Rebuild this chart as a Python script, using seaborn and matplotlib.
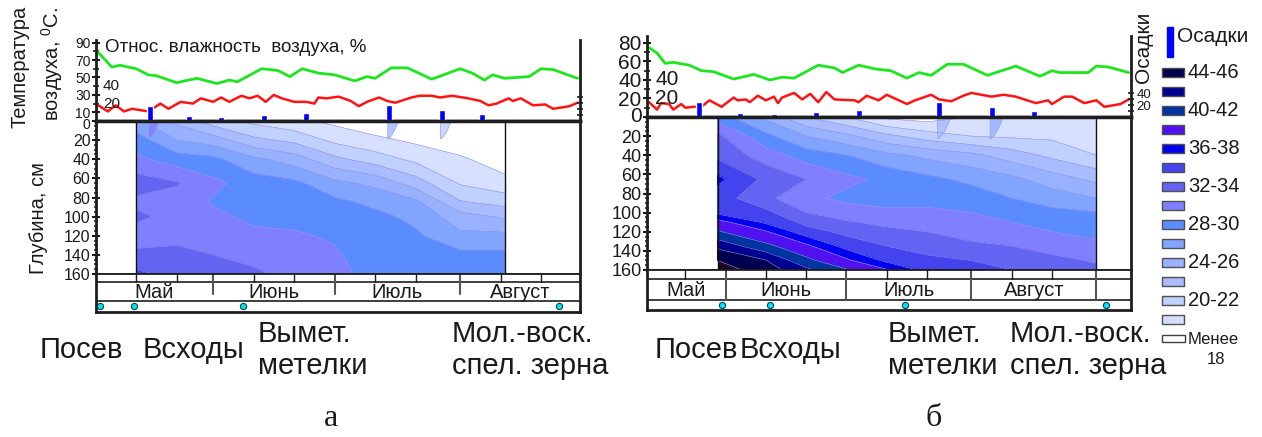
import matplotlib
matplotlib.use('Agg')

import matplotlib.pyplot as plt
from matplotlib.patches import Rectangle
import numpy as np
import seaborn as sns

sns.set_style("white")
plt.rcParams['font.family'] = ['Liberation Sans', 'DejaVu Sans']
plt.rcParams['mathtext.fontset'] = 'custom'
plt.rcParams['mathtext.rm'] = 'Liberation Sans'
plt.rcParams['text.color'] = '#1a1a1a'
plt.rcParams['ytick.color'] = '#1a1a1a'

W, H = 1262, 437

# days counted from 1 May (June 1 = 31, July 1 = 61, Aug 1 = 92, Sep 1 = 123)
months = ['Май', 'Июнь', 'Июль', 'Август']
month_starts = [0, 31, 61, 92, 123]
phases = ['Посев', 'Всходы', 'Вымет.\nметелки', 'Мол.-воск.\nспел. зерна']

# ---- panel a: weather
hum_a_day = [2, 6, 8, 12, 15, 17, 22, 27, 32, 35, 37, 43, 47, 50, 53, 57, 61, 66, 69, 71,
             75, 79, 85, 92, 95, 98, 100, 103, 109, 112, 115, 121]
hum_a = [82, 62, 64, 60, 53, 52, 44, 49, 43, 47, 45, 60, 58, 51, 60, 55, 53, 46, 51, 49,
         61, 61, 48, 60, 55, 47, 53, 49, 51, 60, 59, 49]
tmp_a_day = [2, 5, 7, 9, 11, 15, 18, 20, 23, 26, 28, 31, 33, 35, 38, 40, 42, 44, 46, 48,
             51, 54, 56, 57, 59, 62, 65, 67, 69, 72, 74, 76, 80, 82, 85, 87, 90, 94, 97, 99,
             101, 104, 105, 107, 110, 113, 115, 119, 121]
tmp_a = [20, 11, 18, 11, 14, 11, 20, 14, 22, 20, 26, 22, 27, 22, 29, 26, 29, 22, 30, 26,
         22, 22, 20, 27, 26, 28, 23, 17, 22, 27, 23, 21, 27, 29, 29, 27, 29, 26, 23, 18,
         20, 26, 23, 26, 18, 19, 14, 17, 21]
rain_a_day = [15.5, 25, 33, 43.5, 54, 74.5, 87.5, 97.5]
rain_a = [25, 8, 7, 10, 13, 27, 18, 12]

# ---- panel b: weather
hum_b_day = [12, 14, 16, 18, 22, 25, 28, 33, 35, 38, 42, 45, 48, 54, 58, 60, 64, 68, 72, 76,
             79, 82, 86, 90, 96, 103, 109, 112, 114, 121, 123, 126, 131]
hum_b = [75, 69, 58, 59, 56, 50, 49, 41, 43, 46, 40, 43, 42, 56, 53, 48, 56, 52, 50, 42,
         48, 45, 57, 57, 45, 55, 44, 50, 48, 48, 55, 54, 48]
tmp_b_day = [12, 14, 15, 17, 18, 20, 21, 23, 25, 27, 30, 33, 34, 36, 37, 39, 41, 43, 44, 45,
             48, 50, 52, 54, 56, 58, 63, 64, 66, 69, 71, 76, 78, 82, 84, 87, 90, 92, 97, 100,
             103, 108, 111, 112, 115, 117, 120, 123, 125, 129, 131]
tmp_b = [16, 8, 15, 14, 8, 14, 10, 11, 11, 18, 11, 21, 18, 19, 16, 23, 18, 22, 15, 21,
         26, 19, 25, 16, 27, 19, 18, 16, 23, 18, 24, 14, 18, 24, 19, 17, 23, 26, 22, 24,
         22, 15, 18, 14, 22, 22, 15, 18, 11, 14, 19]
rain_b_day = [24.5, 34.5, 43, 53.5, 64, 84, 97, 107.5]
rain_b = [25, 7, 5, 8, 12, 25, 17, 10]

# ---- soil moisture, %  (rows = depth, columns = days)
depths_a = [0, 20, 40, 65, 85, 100, 120, 140, 160]
soil_a_day = [12, 22, 31, 41, 51, 61, 71, 81, 92, 103]
soil_a = [
    [26.5, 23.5, 21.0, 19.5, 18.5, 17.5, 16.5, 16.0, 15.5, 15.0],
    [29.0, 26.0, 25.0, 22.5, 21.5, 19.5, 18.5, 17.6, 16.8, 16.0],
    [30.5, 29.0, 28.5, 26.5, 25.0, 22.5, 21.0, 19.5, 18.3, 17.0],
    [33.0, 32.2, 30.5, 29.0, 28.5, 26.5, 25.5, 23.0, 19.8, 18.6],
    [31.5, 31.0, 29.8, 29.0, 29.0, 28.5, 27.5, 26.5, 22.2, 21.3],
    [32.5, 31.2, 30.5, 29.5, 29.5, 29.3, 28.5, 27.5, 24.8, 23.7],
    [31.0, 31.5, 31.2, 30.5, 30.2, 29.8, 29.0, 28.3, 26.5, 26.5],
    [32.5, 32.5, 32.0, 31.5, 31.0, 30.2, 29.2, 29.0, 28.5, 28.5],
    [34.5, 33.3, 32.5, 32.3, 31.5, 30.5, 29.4, 29.3, 29.3, 29.2],
]
depths_b = [0, 20, 40, 65, 85, 100, 110, 120, 135, 150, 160]
soil_b_day = [29, 41, 51, 61, 71, 81, 92, 102, 112, 123]
soil_b = [
    [29.0, 25.5, 22.0, 20.0, 17.5, 17.0, 18.0, 18.5, 19.0, 19.0],
    [32.5, 28.5, 26.0, 24.5, 22.5, 21.0, 20.0, 19.7, 19.6, 19.5],
    [33.5, 31.0, 29.0, 28.0, 26.5, 25.5, 24.5, 23.0, 21.5, 20.0],
    [36.5, 33.5, 32.0, 30.5, 29.5, 28.5, 27.5, 26.5, 25.0, 23.5],
    [35.0, 32.5, 30.5, 29.5, 29.0, 29.5, 29.0, 28.0, 27.0, 26.0],
    [35.5, 34.5, 32.0, 31.0, 30.5, 30.3, 30.0, 29.5, 28.5, 28.1],
    [38.8, 35.6, 33.5, 32.2, 31.5, 31.1, 30.5, 30.0, 29.2, 28.8],
    [40.2, 38.2, 34.8, 33.5, 32.5, 32.0, 31.0, 30.5, 30.0, 29.4],
    [43.5, 40.5, 38.5, 35.2, 34.0, 33.2, 32.5, 32.0, 31.3, 30.5],
    [46.0, 44.1, 40.5, 38.4, 35.5, 34.5, 34.0, 33.3, 32.5, 31.8],
    [47.0, 45.0, 42.5, 40.2, 38.2, 35.3, 34.7, 34.0, 33.0, 32.5],
]

levels = [0, 18, 20, 22, 24, 26, 28, 30, 32, 34, 36, 38, 40, 42, 44, 46]
fill_colors = ['#ffffff', '#d8e0ff', '#c0d0ff', '#a8bcff', '#98b2ff', '#80a4ff', '#5a8cff',
               '#8080ff', '#6464f2', '#4444ee', '#0000f0', '#5010f0', '#0034a0', '#000090',
               '#000050', '#1a0528']
legend_labels = ['44-46', '', '40-42', '', '36-38', '', '32-34', '', '28-30', '', '24-26', '',
                 '20-22', '']

dekads_a = [12, 22, 41, 51, 71, 81, 102, 112]
dekads_b = [21, 41, 51, 71, 81, 102, 112]
phase_a = [3, 11.5, 38.5, 116.5]
phase_b = [30, 42, 75.5, 125.5]

fig = plt.figure(figsize=(W / 100, H / 100), dpi=100)


def px_axes(left, top, right, bottom):
    return fig.add_axes([left / W, 1 - bottom / H, (right - left) / W, (bottom - top) / H])


def draw_panel(p, hum_day, hum, tmp_day, tmp, rain_day, rain, soil_day, depths, soil,
               dekads, phase_days):
    x0, x1 = p['xlim']
    dark = '#1e1e1e'

    # weather block
    axw = px_axes(p['left'], p['wtop'], p['right'], p['zero'])
    sns.lineplot(x=hum_day, y=hum, ax=axw, color='#1ee61e', linewidth=2.0)
    sns.lineplot(x=tmp_day, y=tmp, ax=axw, color='#ff1414', linewidth=1.8)
    axw.set_xlim(x0, x1)
    axw.set_ylim(0, p['wmax'])
    axw.set_xticks([])
    axw.set_yticks(p['wticks'])
    axw.set_yticklabels([''] + [str(t) for t in p['wticks'][1:]])
    axw.set_yticks(p['wminor'], minor=True)
    axw.tick_params(axis='y', which='major', direction='inout', length=6, width=1.5,
                    labelsize=p['wsize'], pad=1, left=True)
    axw.tick_params(axis='y', which='minor', direction='inout', length=4, width=1.2, left=True)
    # zero label sits a little lower, at the junction with the depth scale
    axw.annotate('0', xy=(0, 0), xycoords='axes fraction', xytext=(-4, -p['zero_drop']),
                 textcoords='offset points', ha='right', va='center', fontsize=p['wsize'])
    for s in ['top', 'right']:
        axw.spines[s].set_visible(False)
    axw.spines['left'].set_linewidth(2)
    axw.spines['left'].set_color(dark)
    axw.spines['bottom'].set_linewidth(2.5)
    axw.spines['bottom'].set_color(dark)
    axw.set_xlabel('')
    axw.set_ylabel('')
    axw.text(p['tlab_x'], 40, '40', fontsize=p['tsize'], va='center')
    axw.text(p['tlab_x'], 20, '20', fontsize=p['tsize'], va='center')

    axp = axw.twinx()
    axp.bar(rain_day, rain, width=1.5, color='#0000ff')
    axp.set_ylim(0, 135)
    axp.set_yticks([20, 40])
    axp.set_yticks([10, 30], minor=True)
    axp.set_yticklabels(['20', '40'] if p['rain_labels'] else ['', ''])
    axp.tick_params(axis='y', which='both', direction='inout', length=4, width=1.2,
                    labelsize=9.5, pad=2, right=True)
    for s in ['top', 'left', 'bottom']:
        axp.spines[s].set_visible(False)
    axp.spines['right'].set_linewidth(2)
    axp.spines['right'].set_color(dark)

    # soil moisture block
    axd = px_axes(p['left'], p['zero'], p['right'], p['dbot'])
    axd.contourf(soil_day, depths, soil, levels=levels, colors=fill_colors, extend='max')
    axd.contour(soil_day, depths, soil, levels=levels[1:], colors='#9494f4', linewidths=0.4)
    # infiltration tongues under heavy rains
    for d, r in zip(rain_day, rain):
        if r >= 17 and soil_day[0] < d < soil_day[-1]:
            m = np.interp(d, soil_day, soil[0]) + 6
            c = fill_colors[int(np.searchsorted(levels, m)) - 1]
            z = np.linspace(0, p['tongue'], 40)
            xl = np.full_like(z, d - 0.5)
            xr = d - 0.5 + p['tongue_w'] * (1 - z / p['tongue']) ** 0.6
            axd.fill_betweenx(z, xl, xr, color=c, alpha=0.85, lw=0.6, ec='#9a9af0')
    axd.axvline(soil_day[0], color='#111111', lw=1)
    axd.axvline(soil_day[-1], color='#111111', lw=1)
    axd.set_xlim(x0, x1)
    axd.set_ylim(160, 0)
    axd.set_xticks([])
    axd.set_yticks(list(range(20, 161, 20)))
    axd.set_yticks(list(range(0, 161, 5)), minor=True)
    axd.tick_params(axis='y', which='major', direction='inout', length=6, width=1.5,
                    labelsize=p['dsize'], pad=1, left=True)
    axd.tick_params(axis='y', which='minor', direction='inout', length=3.5, width=1.1, left=True)
    for s, lw in [('left', 2), ('right', 2), ('top', 2.5), ('bottom', 1.3)]:
        axd.spines[s].set_linewidth(lw)
        axd.spines[s].set_color(dark)

    # calendar strip
    axs = px_axes(p['left'], p['dbot'], p['right'], p['sbot'])
    axs.set_xlim(x0, x1)
    axs.set_ylim(0, 1)
    axs.set_xticks([])
    axs.set_yticks([])
    axs.axhline(p['row_phase'], color=dark, lw=1.2)
    axs.axhline(p['row_month'], color=dark, lw=1.2)
    for d in dekads:
        axs.plot([d, d], [p['row_month'], 1], color=dark, lw=1)
    for s in month_starts[1:]:
        if x0 < s < x1:
            axs.plot([s, s], [p['sep_lo'], 1], color='#555555', lw=1.5)
    for name, s, e in zip(months, month_starts[:-1], month_starts[1:]):
        c = (max(s, x0) + min(e, x1)) / 2
        axs.text(c, (p['row_phase'] + p['row_month']) / 2 - 0.02, name,
                 ha='center', va='center', fontsize=14.5)
    sns.scatterplot(x=phase_days, y=[p['row_phase'] / 2] * len(phase_days), ax=axs,
                    color='#00e6e6', edgecolor='#104060', s=20, linewidth=0.8, zorder=5,
                    clip_on=False)
    for s, lw in [('left', 2), ('right', 2), ('top', 1.3), ('bottom', 2)]:
        axs.spines[s].set_linewidth(lw)
        axs.spines[s].set_color(dark)

    for name, xl in zip(phases, p['phase_x']):
        fig.text(xl / W, 1 - 350 / H, name, fontsize=21, ha='left', va='center',
                 linespacing=1.2)
    fig.text(p['letter_x'] / W, 1 - 419 / H, p['letter'], fontsize=23,
             family=['Liberation Serif', 'DejaVu Serif'], ha='center', va='center')


pa = dict(left=96, right=580, wtop=40, zero=121, dbot=274, sbot=312, xlim=(2.1, 121.6),
          wmax=93, wticks=[0, 10, 30, 50, 70, 90], wminor=[20, 40, 60, 80], wsize=10,
          dsize=11.5, tlab_x=3.8, tsize=11, rain_labels=False, row_phase=0.29,
          row_month=0.79, sep_lo=0.47, phase_x=[40, 143, 258, 452], letter='а', letter_x=331,
          tongue=18, tongue_w=2.6, zero_drop=3)
pb = dict(left=647, right=1131, wtop=36, zero=117, dbot=270, sbot=310, xlim=(11.5, 131.6),
          wmax=87.5, wticks=[0, 20, 40, 60, 80], wminor=[10, 30, 50, 70], wsize=15,
          dsize=13, tlab_x=13.5, tsize=15, rain_labels=True, row_phase=0.25,
          row_month=0.775, sep_lo=0.25, phase_x=[655, 740, 888, 1010], letter='б', letter_x=934,
          tongue=22, tongue_w=3.2, zero_drop=0)

draw_panel(pa, hum_a_day, hum_a, tmp_a_day, tmp_a, rain_a_day, rain_a, soil_a_day, depths_a,
           soil_a, dekads_a, phase_a)
draw_panel(pb, hum_b_day, hum_b, tmp_b_day, tmp_b, rain_b_day, rain_b, soil_b_day, depths_b,
           soil_b, dekads_b, phase_b)

# axis titles of panel a
fig.text(105 / W, 1 - 48 / H, 'Относ. влажность  воздуха, %', fontsize=13.5, va='center')
fig.text(20 / W, 1 - 67 / H, 'Температура', rotation=90, fontsize=14.5, ha='center', va='center')
fig.text(52 / W, 1 - 64 / H, 'воздуха, $^{0}$С.', rotation=90, fontsize=14.5, ha='center',
         va='center')
fig.text(38 / W, 1 - 218 / H, 'Глубина, см', rotation=90, fontsize=14.5, ha='center', va='center')
fig.text(1144 / W, 1 - 47 / H, 'Осадки', rotation=90, fontsize=15, ha='center', va='center')

# legend of panel b
axl = px_axes(1155, 20, 1262, 380)
axl.set_xlim(0, 107)
axl.set_ylim(360, 0)
axl.axis('off')
axl.add_patch(Rectangle((12, 7), 6, 30, color='#0000ff'))
axl.text(22, 16, 'Осадки', fontsize=15, va='center')
legend_colors = fill_colors[1:15][::-1]
for i, (c, lab) in enumerate(zip(legend_colors, legend_labels)):
    yc = 52 + 19 * i
    axl.add_patch(Rectangle((7, yc - 4.5), 22, 9, facecolor=c, edgecolor='#505050', lw=1))
    if lab:
        axl.text(33, yc, lab, fontsize=14.5, va='center')
axl.add_patch(Rectangle((7, 315), 23, 7, facecolor='white', edgecolor='#404040', lw=1))
axl.text(33, 320, 'Менее', fontsize=12, va='center')
axl.text(61, 340, '18', fontsize=12, va='center', ha='center')

fig.savefig('out.png', dpi=100)
